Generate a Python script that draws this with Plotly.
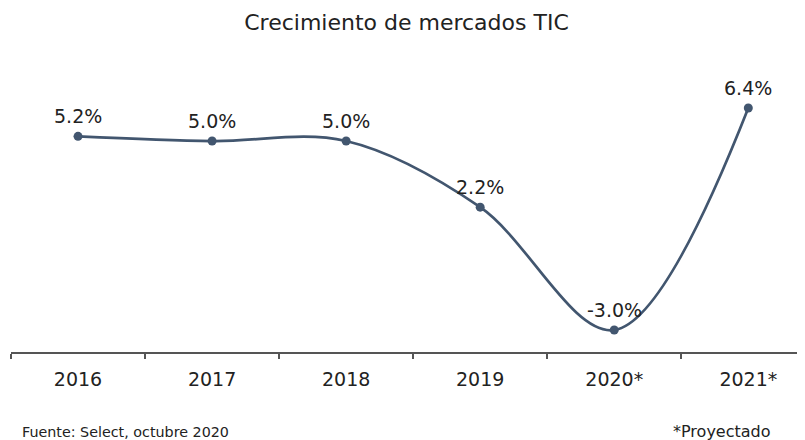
import plotly.graph_objects as go

years = ["2016", "2017", "2018", "2019", "2020*", "2021*"]
growth = [5.2, 5.0, 5.0, 2.2, -3.0, 6.4]
labels = ["5.2%", "5.0%", "5.0%", "2.2%", "-3.0%", "6.4%"]

FONT = "DejaVu Sans"
LINE = "#42566F"

W, H = 797, 432          # page body has an 8px margin
T, B, L = 52, 88, 3
PH = H - T - B

fig = go.Figure()
fig.add_trace(go.Scatter(
    x=list(range(len(years))), y=growth,
    mode="lines+markers",
    line=dict(color=LINE, width=2.7, shape="spline", smoothing=1.0),
    marker=dict(color=LINE, size=9),
    cliponaxis=False,
    hoverinfo="skip",
))

annots = [
    dict(x=i, y=v, text=t, xref="x", yref="y", showarrow=False,
         yshift=20, yanchor="middle", xanchor="center",
         font=dict(family=FONT, size=19, color="#222222"))
    for i, (v, t) in enumerate(zip(growth, labels))
]

annots += [
    dict(text="Fuente: Select, octubre 2020", xref="paper", yref="paper",
         x=(12 - L) / (W - L), xanchor="left", y=-(424 - (H - B)) / PH, yanchor="middle",
         showarrow=False, font=dict(family=FONT, size=14.3, color="#222222")),
    dict(text="*Proyectado", xref="paper", yref="paper",
         x=(765 - L) / (W - L), xanchor="right", y=-(423 - (H - B)) / PH, yanchor="middle",
         showarrow=False, font=dict(family=FONT, size=16, color="#222222")),
]

fig.update_layout(
    width=W, height=H,
    margin=dict(l=L, r=0, t=T, b=B),
    paper_bgcolor="white", plot_bgcolor="white",
    showlegend=False,
    title=dict(text="Crecimiento de mercados TIC", x=0.5, xanchor="center",
               y=1 - 14 / H, yanchor="middle",
               font=dict(family=FONT, size=22, color="#222222")),
    font=dict(family=FONT, color="#222222"),
    xaxis=dict(
        range=[-0.5, 5.423],
        tickmode="array", tickvals=list(range(len(years))), ticktext=years,
        ticks="", showgrid=False, zeroline=False,
        showline=True, linecolor="#555555", linewidth=1.5,
        tickfont=dict(family=FONT, size=19, color="#222222"),
        ticklabelstandoff=9,
        minor=dict(tickmode="array", tickvals=[-0.5, 0.5, 1.5, 2.5, 3.5, 4.5],
                   ticks="outside", ticklen=5, tickcolor="#555555", tickwidth=1.5,
                   showgrid=False),
    ),
    yaxis=dict(range=[-3.93, 8.43], visible=False, showgrid=False, zeroline=False),
    annotations=annots,
)

fig.write_html("out.html")
